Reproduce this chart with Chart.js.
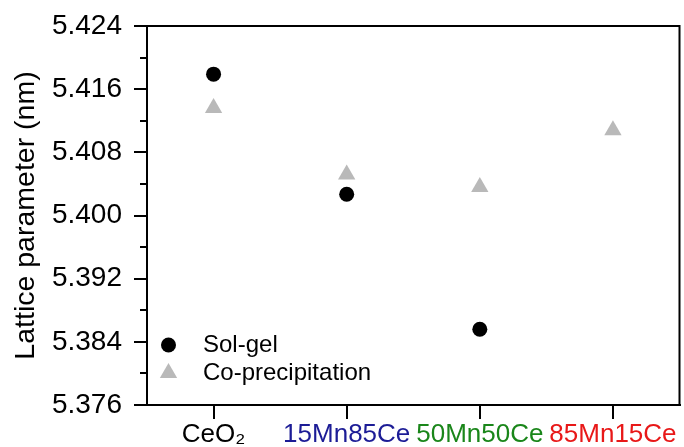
<!DOCTYPE html>
<html>
<head>
<meta charset="utf-8">
<script src="https://cdn.jsdelivr.net/npm/chart.js@4/dist/chart.umd.min.js"></script>
<style>
  html, body { margin: 0; padding: 0; background: #fff; }
  #wrap { width: 684px; height: 447px; }
</style>
</head>
<body>
<div id="wrap"><canvas id="c" width="684" height="447"></canvas></div>
<script>
// Samples and measured lattice parameters (nm)
const categories = ['CeO\u2082', '15Mn85Ce', '50Mn50Ce', '85Mn15Ce'];
const categoryColors = ['#000000', '#1c1c96', '#1a861a', '#e81818'];
const solGel = [5.4179, 5.4027, 5.3856, null];
const coPrecipitation = [5.4136, 5.4052, 5.4036, 5.4108];
const yTicks = [5.376, 5.384, 5.392, 5.400, 5.408, 5.416, 5.424];
const yMinorTicks = [5.380, 5.388, 5.396, 5.404, 5.412, 5.420];

const FONT = "'Liberation Sans', Arial, Helvetica, sans-serif";

// Box frame, minor ticks and the in-plot legend
const framePlugin = {
  id: 'frame',
  afterDraw(chart) {
    const { ctx, chartArea: a } = chart;
    const y = chart.scales.y;
    ctx.save();
    ctx.strokeStyle = '#000';
    ctx.lineWidth = 2;
    ctx.beginPath();
    ctx.moveTo(a.left, a.top);
    ctx.lineTo(a.right, a.top);
    ctx.lineTo(a.right, a.bottom);
    ctx.stroke();
    // minor ticks on the value axis
    ctx.beginPath();
    yMinorTicks.forEach(v => {
      const py = Math.round(y.getPixelForValue(v));
      ctx.moveTo(a.left, py);
      ctx.lineTo(a.left - 7, py);
    });
    ctx.stroke();

    // legend
    const rows = [
      { ds: chart.data.datasets[0], y: a.bottom - 60 },
      { ds: chart.data.datasets[1], y: a.bottom - 32 }
    ];
    const mx = a.left + 21.5;
    rows.forEach(r => {
      const opts = {
        pointStyle: r.ds.pointStyle,
        radius: r.ds.pointRadius,
        rotation: 0,
        borderWidth: 0
      };
      ctx.fillStyle = r.ds.backgroundColor;
      ctx.strokeStyle = r.ds.backgroundColor;
      Chart.helpers.drawPoint(ctx, opts, mx, r.y);
      ctx.fillStyle = '#000';
      ctx.font = '24px ' + FONT;
      ctx.textAlign = 'left';
      ctx.textBaseline = 'middle';
      ctx.fillText(r.ds.label, a.left + 56, r.y);
    });
    ctx.restore();
  }
};

new Chart(document.getElementById('c'), {
  type: 'line',
  data: {
    labels: categories,
    datasets: [
      {
        label: 'Sol-gel',
        data: solGel,
        showLine: false,
        pointStyle: 'circle',
        pointRadius: 7.5,
        pointBorderWidth: 0,
        backgroundColor: '#000000',
        borderColor: '#000000'
      },
      {
        label: 'Co-precipitation',
        data: coPrecipitation,
        showLine: false,
        pointStyle: 'triangle',
        pointRadius: 10,
        pointBorderWidth: 0,
        backgroundColor: '#b9b9b9',
        borderColor: '#b9b9b9'
      }
    ]
  },
  options: {
    responsive: false,
    animation: false,
    devicePixelRatio: 1,
    layout: { autoPadding: false, padding: { top: 26, right: 4.5, left: 0, bottom: 0 } },
    plugins: {
      legend: { display: false },
      tooltip: { enabled: false }
    },
    scales: {
      x: {
        type: 'category',
        offset: true,
        grid: {
          offset: false,
          drawOnChartArea: false,
          color: '#000',
          lineWidth: 2,
          tickLength: 14
        },
        border: { color: '#000', width: 2 },
        ticks: {
          color: ctx => categoryColors[ctx.index],
          font: { family: FONT, size: 26 },
          padding: 0,
          maxRotation: 0,
          autoSkip: false
        },
        afterFit(scale) {
          scale.height = 42;
          scale.paddingLeft = 0;
          scale.paddingRight = 0;
        }
      },
      y: {
        min: 5.376,
        max: 5.424,
        grid: {
          drawOnChartArea: false,
          color: '#000',
          lineWidth: 2,
          tickLength: 13
        },
        border: { color: '#000', width: 2 },
        afterBuildTicks(scale) {
          scale.ticks = yTicks.map(v => ({ value: v }));
        },
        ticks: {
          color: '#000',
          font: { family: FONT, size: 28 },
          padding: 12,
          callback: v => Number(v).toFixed(3)
        },
        title: {
          display: true,
          text: 'Lattice parameter (nm)',
          color: '#000',
          font: { family: FONT, size: 28.5 },
          padding: { top: 9, bottom: 4 }
        },
        afterFit(scale) {
          scale.width = 147;
          scale.paddingTop = 0;
          scale.paddingBottom = 0;
        }
      }
    }
  },
  plugins: [framePlugin]
});
</script>
</body>
</html>
